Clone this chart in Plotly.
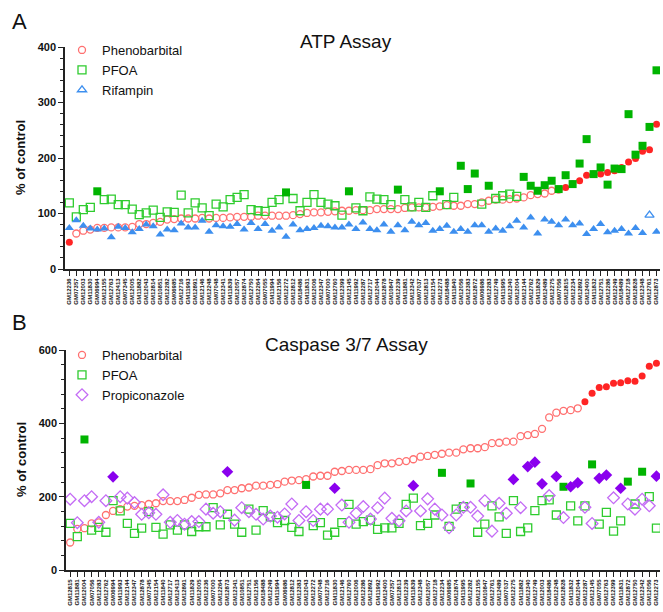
import plotly.graph_objects as go

# ---------------- data ----------------
atp_labels = ["GM12236", "GM07357", "GM12003", "GM11830", "GM06994", "GM12155", "GM12763", "GM12413", "GM07345", "GM12005",
              "GM11882", "GM12043", "GM12814", "GM10851", "GM12282", "GM06985", "GM12716", "GM11993", "GM12891", "GM12146",
              "GM12248", "GM07048", "GM12341", "GM11839", "GM12057", "GM12874", "GM12750", "GM12264", "GM07055", "GM11994",
              "GM12156", "GM12272", "GM12812", "GM18486", "GM11831", "GM12006", "GM12347", "GM07000", "GM12760", "GM12399",
              "GM12145", "GM11992", "GM12287", "GM12717", "GM12044", "GM12878", "GM10847", "GM12239", "GM11881", "GM12342",
              "GM07037", "GM12813", "GM12154", "GM12273", "GM18488", "GM11840", "GM12056", "GM12383", "GM12872", "GM06986",
              "GM12283", "GM12749", "GM11995", "GM12340", "GM12004", "GM12144", "GM12762", "GM11829", "GM12489", "GM12275",
              "GM07056", "GM12815", "GM12234", "GM12892", "GM12400", "GM11832", "GM12751", "GM12286", "GM12249", "GM18489",
              "GM12718", "GM12828", "GM12348", "GM12761", "GM12873"]
atp_phenobarbital = [48, 64, 69, 71, 74, 74, 75, 75, 75, 76, 81, 81, 83, 85, 89, 90, 91, 91, 91, 92,
                     91, 92, 92, 93, 94, 94, 94, 96, 96, 96, 96, 96, 97, 99, 101, 102, 102, 103, 104, 105,
                     105, 106, 106, 106, 108, 108, 108, 108, 110, 111, 111, 111, 112, 113, 115, 114, 114, 117, 117, 120,
                     123, 125, 125, 126, 127, 129, 133, 135, 136, 141, 143, 147, 153, 159, 169, 171, 171, 174, 177, 183,
                     193, 199, 212, 215, 261]
atp_phenobarbital_sig = [1] + [0] * 70 + [1] * 14
atp_pfoa = [119, 94, 107, 111, 140, 125, 126, 116, 116, 108, 98, 101, 106, 93, 103, 102, 133, 101, 119, 110,
            96, 117, 112, 125, 129, 134, 107, 105, 104, 120, 125, 138, 127, 105, 120, 134, 120, 117, 114, 97,
            140, 110, 105, 130, 126, 125, 116, 143, 125, 112, 120, 111, 132, 140, 116, 129, 186, 144, 172, 117,
            150, 127, 132, 135, 131, 166, 150, 141, 151, 159, 144, 169, 153, 190, 234, 171, 183, 152, 181, 180,
            279, 206, 222, 256, 358]
atp_pfoa_sig = [0, 0, 0, 0, 1, 0, 0, 0, 0, 0, 0, 0, 0, 0, 0, 0, 0, 0, 0, 0,
                0, 0, 0, 0, 0, 0, 0, 0, 0, 0, 0, 1, 0, 0, 0, 0, 0, 0, 0, 0,
                1, 0, 0, 0, 0, 0, 0, 1, 0, 0, 0, 0, 0, 1, 0, 0, 1, 1, 1, 0,
                1, 0, 0, 0, 0, 1, 1, 1, 1, 1, 1, 1, 1, 1, 1, 1, 1, 1, 1, 1,
                1, 1, 1, 1, 1]
atp_rifampin = [74, 88, 78, 73, 71, 73, 57, 76, 74, 66, 72, 80, 77, 62, 71, 70, 82, 75, 75, 87,
                67, 79, 77, 76, 81, 71, 83, 72, 81, 69, 75, 58, 80, 70, 72, 74, 78, 77, 75, 75,
                80, 72, 84, 72, 70, 80, 67, 79, 70, 85, 79, 83, 69, 72, 78, 67, 72, 67, 79, 79,
                67, 73, 69, 77, 87, 75, 93, 64, 89, 85, 79, 89, 79, 82, 63, 72, 81, 66, 69, 72,
                64, 74, 65, 97, 67]
atp_rifampin_sig = [1] * 83 + [0, 1]

casp_labels = ["GM12815", "GM11881", "GM12004", "GM07056", "GM12283", "GM12762", "GM06994", "GM11993", "GM12144", "GM12347",
               "GM12878", "GM07345", "GM12154", "GM11840", "GM12717", "GM12413", "GM12891", "GM11829", "GM12005", "GM12236",
               "GM07000", "GM12264", "GM12873", "GM12341", "GM10851", "GM12751", "GM12156", "GM18488", "GM12249", "GM11994",
               "GM06986", "GM12812", "GM12383", "GM12043", "GM12272", "GM07048", "GM12716", "GM11830", "GM12146", "GM12760",
               "GM12006", "GM12286", "GM12892", "GM11992", "GM12400", "GM07357", "GM12813", "GM12239", "GM11839", "GM12348",
               "GM12057", "GM12718", "GM12234", "GM06985", "GM12874", "GM11995", "GM12282", "GM12155", "GM10847", "GM12761",
               "GM12489", "GM07037", "GM12275", "GM11882", "GM12340", "GM12749", "GM12003", "GM18486", "GM12248", "GM12828",
               "GM11832", "GM12044", "GM12287", "GM12145", "GM07055", "GM12763", "GM12399", "GM11831", "GM12872", "GM12750",
               "GM12342", "GM12056", "GM12273"]
casp_phenobarbital = [75, 112, 114, 127, 130, 150, 161, 166, 173, 175, 177, 180, 182, 188, 188, 188, 191, 197, 205, 206,
                      206, 209, 218, 218, 223, 225, 230, 230, 232, 234, 241, 244, 245, 248, 255, 257, 257, 268, 270, 273,
                      273, 273, 275, 286, 291, 291, 295, 297, 302, 309, 311, 314, 317, 320, 320, 329, 332, 332, 335, 346,
                      347, 350, 350, 365, 368, 371, 385, 416, 429, 434, 436, 441, 459, 482, 498, 500, 509, 511, 516, 515,
                      529, 556, 564]
casp_phenobarbital_sig = [0] * 72 + [1] * 11
casp_pfoa = [127, 91, 356, 109, 116, 103, 189, 161, 127, 100, 114, 159, 116, 98, 123, 109, 123, 105, 118, 118,
             170, 123, 152, 125, 103, 166, 109, 162, 145, 129, 135, 116, 105, 232, 121, 129, 95, 103, 129, 179,
             125, 132, 136, 111, 115, 115, 127, 179, 196, 121, 127, 150, 265, 119, 166, 173, 236, 103, 125, 175,
             145, 100, 189, 105, 115, 162, 189, 191, 150, 227, 175, 134, 175, 288, 125, 157, 106, 134, 241, 180,
             268, 200, 114]
casp_pfoa_sig = [0, 0, 1, 0, 0, 0, 0, 0, 0, 0, 0, 0, 0, 0, 0, 0, 0, 0, 0, 0,
                 0, 0, 0, 0, 0, 0, 0, 0, 0, 0, 0, 0, 0, 1, 0, 0, 0, 0, 0, 0,
                 0, 0, 0, 0, 0, 0, 0, 0, 0, 0, 0, 0, 1, 0, 0, 0, 1, 0, 0, 0,
                 0, 0, 0, 0, 0, 0, 0, 0, 0, 1, 0, 0, 0, 1, 0, 0, 0, 0, 1, 0,
                 1, 0, 0]
casp_propiconazole = [193, 129, 189, 200, 130, 189, 254, 200, 196, 184, 152, 156, 152, 205, 130, 135, 125, 132, 132, 166,
                      155, 159, 268, 136, 170, 159, 152, 139, 147, 144, 153, 180, 135, 159, 135, 166, 166, 223, 177, 130,
                      155, 173, 139, 170, 196, 141, 134, 161, 230, 161, 194, 166, 150, 115, 150, 171, 171, 147, 189, 106,
                      182, 155, 247, 170, 282, 294, 235, 203, 255, 143, 227, 238, 171, 127, 250, 259, 197, 223, 180, 166,
                      193, 175, 256]
casp_propiconazole_sig = [0, 0, 0, 0, 0, 0, 1, 0, 0, 0, 0, 0, 0, 0, 0, 0, 0, 0, 0, 0,
                          0, 0, 1, 0, 0, 0, 0, 0, 0, 0, 0, 0, 0, 0, 0, 0, 0, 1, 0, 0,
                          0, 0, 0, 0, 0, 0, 0, 0, 1, 0, 0, 0, 0, 0, 0, 0, 0, 0, 0, 0,
                          0, 0, 1, 0, 1, 1, 1, 0, 1, 0, 1, 1, 0, 0, 1, 1, 0, 1, 0, 0,
                          0, 0, 1]

FONT = "Liberation Sans, Arial, sans-serif"
W, H = 663, 612

fig = go.Figure()


def add_series(labels, vals, sig, name, sym, c_open, c_fill, size, xa, ya, legend):
    xo = [labels[i] for i in range(len(vals)) if not sig[i]]
    yo = [vals[i] for i in range(len(vals)) if not sig[i]]
    xf = [labels[i] for i in range(len(vals)) if sig[i]]
    yf = [vals[i] for i in range(len(vals)) if sig[i]]
    fig.add_trace(go.Scatter(x=xo, y=yo, mode="markers", name=name, xaxis=xa, yaxis=ya, legend=legend,
                             marker=dict(symbol=sym + "-open", size=size, color=c_open, line=dict(width=1.3))))
    fig.add_trace(go.Scatter(x=xf, y=yf, mode="markers", name=name, xaxis=xa, yaxis=ya, showlegend=False,
                             marker=dict(symbol=sym, size=size, color=c_fill, line=dict(width=0))))


add_series(atp_labels, atp_phenobarbital, atp_phenobarbital_sig, "Phenobarbital", "circle",
           "#ff7070", "#ff2424", 7, "x", "y", "legend")
add_series(atp_labels, atp_pfoa, atp_pfoa_sig, "PFOA", "square", "#2ecc2e", "#00b400", 8, "x", "y", "legend")
add_series(atp_labels, atp_rifampin, atp_rifampin_sig, "Rifampin", "triangle-up",
           "#3d8fef", "#3d8fef", 8, "x", "y", "legend")
add_series(casp_labels, casp_phenobarbital, casp_phenobarbital_sig, "Phenobarbital", "circle",
           "#ff7070", "#ff2424", 7, "x2", "y2", "legend2")
add_series(casp_labels, casp_pfoa, casp_pfoa_sig, "PFOA", "square", "#2ecc2e", "#00b400", 8, "x2", "y2", "legend2")
add_series(casp_labels, casp_propiconazole, casp_propiconazole_sig, "Propiconazole", "diamond",
           "#c46cf5", "#8a00ee", 9, "x2", "y2", "legend2")

xcommon = dict(type="category", showline=True, linecolor="#222", linewidth=2, ticks="outside", ticklen=5,
               tickwidth=1, tickcolor="#222", tickangle=-90, tickfont=dict(family=FONT, size=6, color="#111", weight="bold"),
               showgrid=False, zeroline=False, tickmode="array", automargin=False)
ycommon = dict(showline=True, linecolor="#222", linewidth=1.5, ticks="outside", ticklen=5, tickwidth=1.2,
               tickcolor="#222", tickfont=dict(family=FONT, size=11, color="#111", weight="bold"),
               showgrid=False, zeroline=False, automargin=False)

fig.update_layout(
    width=W, height=H, margin=dict(l=0, r=0, t=0, b=0), paper_bgcolor="white", plot_bgcolor="white",
    xaxis=dict(xcommon, domain=[65 / W, 660 / W], anchor="y", categoryorder="array", categoryarray=atp_labels,
               tickvals=atp_labels, ticktext=atp_labels, range=[-0.62, len(atp_labels) - 0.5]),
    yaxis=dict(ycommon, domain=[1 - 269 / H, 1 - 47 / H], anchor="x", range=[0, 400], dtick=100,
               minor=dict(dtick=20, ticklen=3, tickcolor="#222", ticks="outside")),
    xaxis2=dict(xcommon, domain=[66 / W, 660 / W], anchor="y2", categoryorder="array", categoryarray=casp_labels,
                tickvals=casp_labels, ticktext=casp_labels, range=[-0.58, len(casp_labels) - 0.5]),
    yaxis2=dict(ycommon, domain=[1 - 570 / H, 1 - 350 / H], anchor="x2", range=[0, 600], dtick=200,
                minor=dict(dtick=40, ticklen=3, tickcolor="#222", ticks="outside")),
    legend=dict(x=62 / W, y=1 - 35 / H, xanchor="left", yanchor="top", bgcolor="rgba(0,0,0,0)",
                font=dict(family=FONT, size=13, color="#111"), tracegroupgap=0),
    legend2=dict(x=62 / W, y=1 - 340 / H, xanchor="left", yanchor="top", bgcolor="rgba(0,0,0,0)",
                 font=dict(family=FONT, size=13, color="#111"), tracegroupgap=0),
    showlegend=True,
)

ann = [
    dict(text="A", x=19 / W, y=1 - 22 / H, font=dict(size=22)),
    dict(text="B", x=19 / W, y=1 - 322 / H, font=dict(size=22)),
    dict(text="ATP Assay", x=346 / W, y=1 - 42 / H, font=dict(size=19)),
    dict(text="Caspase 3/7 Assay", x=346 / W, y=1 - 344 / H, font=dict(size=19)),
    dict(text="% of control", x=21 / W, y=1 - 158 / H, textangle=-90, font=dict(size=13, weight="bold")),
    dict(text="% of control", x=21 / W, y=1 - 460 / H, textangle=-90, font=dict(size=13, weight="bold")),
]
for a in ann:
    f = dict(family=FONT, color="#111")
    f.update(a.pop("font"))
    fig.add_annotation(xref="paper", yref="paper", showarrow=False, xanchor="center", yanchor="middle", font=f, **a)

fig.write_html("out.html", config={"displayModeBar": False},
               post_script="document.body.style.margin='0';document.body.style.padding='0';")
